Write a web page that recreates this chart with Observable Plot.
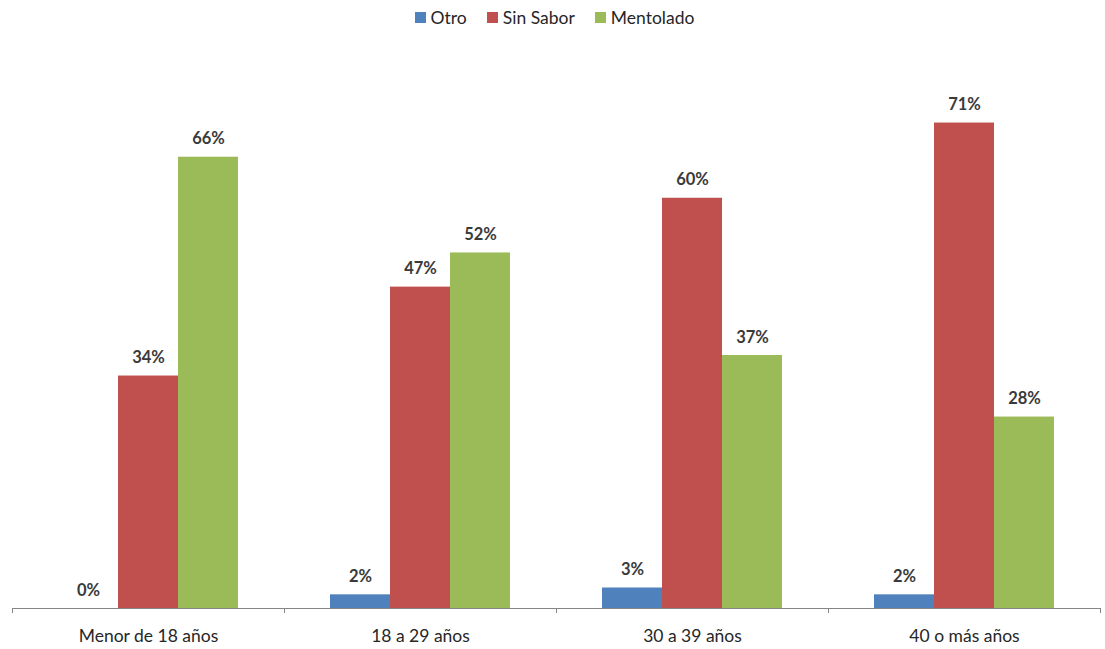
<!DOCTYPE html>
<html>
<head>
<meta charset="utf-8">
<script src="https://cdn.jsdelivr.net/npm/d3@7"></script>
<script src="https://cdn.jsdelivr.net/npm/@observablehq/plot@0.6"></script>
<style>
  html, body { margin: 0; padding: 0; background: #fff; }
  body { width: 1105px; height: 649px; overflow: hidden; font-family: Lato, "Open Sans", sans-serif; }
  #legend { height: 35px; display: flex; justify-content: center; align-items: center; gap: 20px; padding-left: 4px; font-size: 17.5px; color: #262626; }
  .item { display: flex; align-items: center; gap: 5px; }
  .sw { width: 11px; height: 11px; display: inline-block; }
</style>
</head>
<body>
<div id="legend"></div>
<div id="chart"></div>
<script>
const categories = ["Menor de 18 años", "18 a 29 años", "30 a 39 años", "40 o más años"];
const series = ["Otro", "Sin Sabor", "Mentolado"];
const otro = [0, 2, 3, 2];
const sinSabor = [34, 47, 60, 71];
const mentolado = [66, 52, 37, 28];
const colors = ["#4F81BD", "#C0504D", "#9BBB59"];

const valuesBySeries = [otro, sinSabor, mentolado];
const data = [];
categories.forEach((c, i) => {
  series.forEach((s, j) => data.push({cat: c, series: s, value: valuesBySeries[j][i]}));
});

// legend
const legend = document.getElementById("legend");
series.forEach((s, j) => {
  const item = document.createElement("span");
  item.className = "item";
  const sw = document.createElement("span");
  sw.className = "sw";
  sw.style.background = colors[j];
  const t = document.createElement("span");
  t.textContent = s;
  item.appendChild(sw); item.appendChild(t);
  legend.appendChild(item);
});

const chart = Plot.plot({
  width: 1105,
  height: 614,
  marginLeft: 12,
  marginRight: 5,
  marginTop: 26,
  marginBottom: 41,
  style: {fontFamily: "Lato, 'Open Sans', sans-serif", background: "#fff"},
  fx: {domain: categories, padding: 0, label: null},
  x: {domain: series, paddingInner: 0, paddingOuter: 0.75, axis: null},
  y: {domain: [0, 80], axis: null},
  color: {domain: series, range: colors},
  marks: [
    Plot.barY(data, {fx: "cat", x: "series", y: "value", fill: "series"}),
    Plot.ruleY([0], {stroke: "#868686", strokeWidth: 1}),
    Plot.text(data, {fx: "cat", x: "series", y: "value", text: d => d.value + "%",
      lineAnchor: "bottom", dy: -13, fontSize: 16.5, fontWeight: "bold", fill: "#3a3a3a"}),
    Plot.axisFx({anchor: "bottom", tickSize: 0, tickPadding: 21, fontSize: 17.5, label: null, color: "#262626"})
  ]
});
document.getElementById("chart").appendChild(chart);

// boundary tick marks along the category axis
const fx = chart.scale("fx");
const y = chart.scale("y");
const y0 = y.apply(0);
const bw = fx.bandwidth;
const positions = categories.map(c => fx.apply(c)).concat([fx.apply(categories[categories.length - 1]) + bw]);
const svg = d3.select(chart);
svg.append("g").selectAll("line").data(positions).join("line")
  .attr("x1", d => d + 0.5).attr("x2", d => d + 0.5)
  .attr("y1", y0).attr("y2", y0 + 5)
  .attr("stroke", "#868686");
</script>
</body>
</html>
